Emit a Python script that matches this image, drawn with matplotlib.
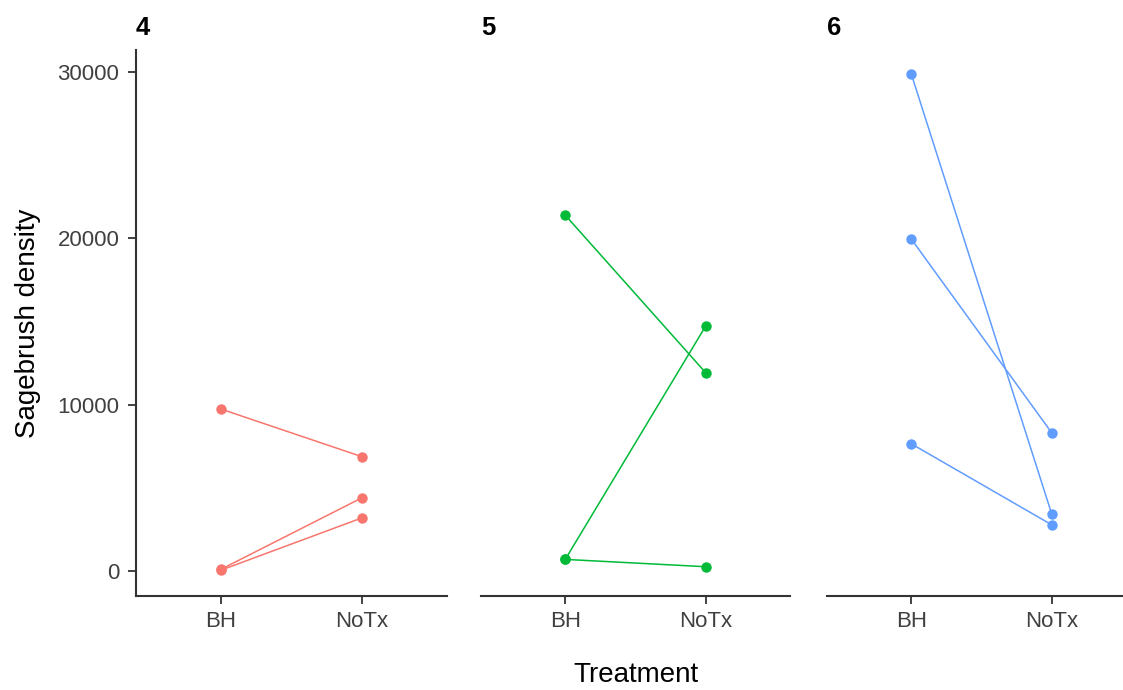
import matplotlib
matplotlib.use("Agg")
import matplotlib.pyplot as plt

# ---- data ----
sites = ["4", "5", "6"]
treatments = ["BH", "NoTx"]
colors = ["#F8766D", "#00BA38", "#619CFF"]
bh_values = [
    [9740, 100, 50],
    [21390, 700, 700],
    [29880, 19960, 7650],
]
notx_values = [
    [6870, 4410, 3200],
    [11920, 14730, 260],
    [3430, 8310, 2780],
]
yticks = [0, 10000, 20000, 30000]
ylabel = "Sagebrush density"
xlabel = "Treatment"

plt.rcParams['font.family'] = ['Liberation Sans', 'DejaVu Sans']

W, H = 1123, 690
fig = plt.figure(figsize=(W / 100, H / 100), dpi=100)

panel_px = [(136, 447), (481, 790), (827, 1136)]
top_px, bottom_px = 50, 596
axis_col = "#333333"
tick_col = "#404040"

for i, (x0, x1) in enumerate(panel_px):
    ax = fig.add_axes([x0 / W, 1 - bottom_px / H, (x1 - x0) / W, (bottom_px - top_px) / H])
    for b, n in zip(bh_values[i], notx_values[i]):
        ax.plot([0, 1], [b, n], color=colors[i], lw=1.1, marker="o", ms=7.5,
                markeredgewidth=0, solid_capstyle="butt")
    ax.set_xlim(-0.6, 1.6)
    ax.set_ylim(-1500, 31320)
    ax.set_xticks([0, 1])
    ax.set_xticklabels(treatments, fontsize=16, color=tick_col)
    for s in ["top", "right"]:
        ax.spines[s].set_visible(False)
    ax.spines["bottom"].set_color(axis_col)
    ax.spines["bottom"].set_linewidth(1.5)
    ax.tick_params(axis="x", length=6, width=1.3, color=axis_col, pad=5)
    if i == 0:
        ax.set_yticks(yticks)
        ax.set_yticklabels([str(v) for v in yticks], fontsize=16, color=tick_col)
        ax.spines["left"].set_color(axis_col)
        ax.spines["left"].set_linewidth(1.5)
        ax.tick_params(axis="y", length=6, width=1.3, color=axis_col, pad=6)
    else:
        ax.spines["left"].set_visible(False)
        ax.set_yticks([])
    ax.set_title(sites[i], loc="left", fontsize=18.5, fontweight="bold", pad=11)
    ax.set_facecolor("white")

fig.text(28 / W, 1 - 323 / H, ylabel, rotation=90, ha="center", va="center", fontsize=20)
fig.text(636 / W, 1 - 675 / H, xlabel, ha="center", va="center", fontsize=20)

fig.savefig("out.png", dpi=100, facecolor="white")
